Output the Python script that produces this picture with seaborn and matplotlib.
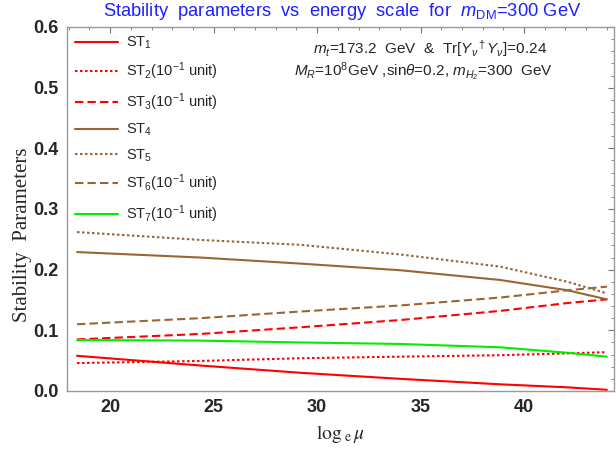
import matplotlib
matplotlib.use("Agg")
import matplotlib.pyplot as plt
import seaborn as sns
import pandas as pd
from matplotlib.lines import Line2D
from matplotlib.ticker import MultipleLocator, FormatStrFormatter

# energy scale (log_e mu) sample points
log_mu = [18.4, 24.35, 29.19, 34.03, 38.84, 42.1, 44.0]

st1 = [0.058, 0.042, 0.030, 0.020, 0.011, 0.006, 0.002]
st2 = [0.046, 0.0495, 0.054, 0.0566, 0.059, 0.062, 0.064]
st3 = [0.085, 0.094, 0.105, 0.117, 0.132, 0.145, 0.151]
st4 = [0.229, 0.220, 0.210, 0.199, 0.183, 0.166, 0.151]
st5 = [0.262, 0.249, 0.241, 0.225, 0.205, 0.180, 0.161]
st6 = [0.110, 0.120, 0.131, 0.141, 0.154, 0.166, 0.172]
st7 = [0.084, 0.083, 0.080, 0.0775, 0.072, 0.063, 0.0565]

labels = [r"ST$_1$", r"ST$_2$(10$^{-1}$ unit)", r"ST$_3$(10$^{-1}$ unit)",
          r"ST$_4$", r"ST$_5$", r"ST$_6$(10$^{-1}$ unit)", r"ST$_7$(10$^{-1}$ unit)"]

sns.set_theme(style="white")
plt.rcParams["font.family"] = ["Liberation Sans", "DejaVu Sans"]
plt.rcParams["mathtext.fontset"] = "custom"
plt.rcParams["mathtext.rm"] = "Liberation Sans"
plt.rcParams["mathtext.it"] = "Liberation Sans:italic"

RED = "#ff0000"
BROWN = "#996633"
GREEN = "#00ee00"
DOT = (0, (1.2, 1.2))
DASH = (0, (4, 2))
styles = [
    (st1, RED, "-"),
    (st2, RED, DOT),
    (st3, RED, DASH),
    (st4, BROWN, "-"),
    (st5, BROWN, DOT),
    (st6, BROWN, DASH),
    (st7, GREEN, "-"),
]

fig = plt.figure(figsize=(6.16, 4.53), dpi=100)
ax = fig.add_axes([0.1083, 0.1369, 0.888, 0.8035])

handles = []
for (vals, col, ls), lab in zip(styles, labels):
    df = pd.DataFrame({"x": log_mu, "y": vals})
    sns.lineplot(data=df, x="x", y="y", ax=ax, color=col, linestyle=ls, lw=1.5)
    handles.append(Line2D([], [], color=col, linestyle=ls, lw=1.5))

ax.set_xlim(17.9, 44.33)
ax.set_ylim(0.0, 0.6)
ax.xaxis.set_major_locator(MultipleLocator(5))
ax.xaxis.set_minor_locator(MultipleLocator(1))
ax.yaxis.set_major_locator(MultipleLocator(0.1))
ax.yaxis.set_minor_locator(MultipleLocator(0.02))
ax.yaxis.set_major_formatter(FormatStrFormatter("%.1f"))
ax.tick_params(which="both", direction="in", top=True, right=True,
               labeltop=False, labelright=False, color="#777777")
ax.tick_params(which="major", length=4, width=0.8, labelsize=13, pad=6)
ax.tick_params(which="minor", length=2, width=0.6)
for t in ax.get_xticklabels() + ax.get_yticklabels():
    t.set_fontweight("bold")
for s in ax.spines.values():
    s.set_color("#999999")
    s.set_linewidth(1.0)

ax.set_xlabel(r"$\mathrm{log}_{\ \mathrm{e}}\,\mu$", fontsize=14,
              fontfamily="Liberation Serif", labelpad=5)
ax.set_ylabel("Stability  Parameters", fontsize=15,
              fontfamily="Liberation Serif")
ax.yaxis.set_label_coords(-0.063, 0.43)
ax.xaxis.label.set_math_fontfamily("stix")

fig.text(0.555, 0.975,
         r"Stability  parameters  vs  energy  scale  for  $m_{\mathrm{DM}}$=300 GeV",
         color="#2020ff", fontsize=13.2, ha="center", va="center")

ax.text(0.665, 0.942,
        r"$m_t$=173.2  GeV  &  Tr[$Y_\nu{}^\dagger Y_\nu$]=0.24",
        transform=ax.transAxes, fontsize=11, ha="center", va="center")
ax.text(0.652, 0.876,
        r"$M_R$=10$^8$GeV ,sin$\theta$=0.2, $m_{H_2}$=300  GeV",
        transform=ax.transAxes, fontsize=11, ha="center", va="center")

ax.legend(handles, labels, loc="upper left", bbox_to_anchor=(0.0, 1.0),
          frameon=False, fontsize=10.5, handlelength=3.0, handletextpad=0.5,
          labelspacing=0.62, borderaxespad=0.15)

fig.savefig("out.png", dpi=100)
